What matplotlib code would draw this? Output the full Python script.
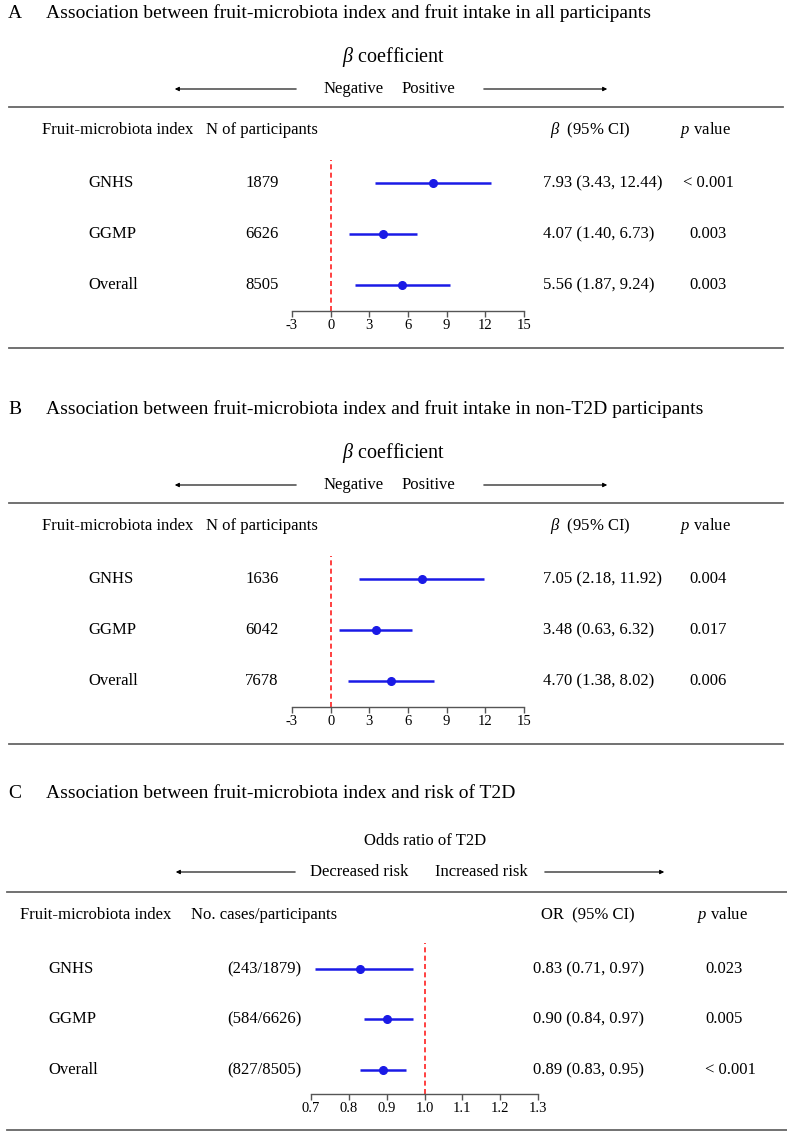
import matplotlib
matplotlib.use("Agg")
import matplotlib.pyplot as plt
from matplotlib.lines import Line2D
from matplotlib.patches import FancyArrowPatch

plt.rcParams["font.family"] = ["Liberation Serif", "DejaVu Serif"]
plt.rcParams["mathtext.fontset"] = "custom"
plt.rcParams["mathtext.rm"] = "Liberation Serif"
plt.rcParams["mathtext.it"] = "Liberation Serif:italic"

# data
cohorts = ["GNHS", "GGMP", "Overall"]

a_n = ["1879", "6626", "8505"]
a_beta = [7.93, 4.07, 5.56]
a_lo = [3.43, 1.40, 1.87]
a_hi = [12.44, 6.73, 9.24]
a_p = ["< 0.001", "0.003", "0.003"]

b_n = ["1636", "6042", "7678"]
b_beta = [7.05, 3.48, 4.70]
b_lo = [2.18, 0.63, 1.38]
b_hi = [11.92, 6.32, 8.02]
b_p = ["0.004", "0.017", "0.006"]

c_cases = ["(243/1879)", "(584/6626)", "(827/8505)"]
c_or = [0.83, 0.90, 0.89]
c_lo = [0.71, 0.84, 0.83]
c_hi = [0.97, 0.97, 0.95]
c_p = ["0.023", "0.005", "< 0.001"]

beta_ticks = [-3, 0, 3, 6, 9, 12, 15]
or_ticks = [0.7, 0.8, 0.9, 1.0, 1.1, 1.2, 1.3]

W, H = 787, 1134
fig = plt.figure(figsize=(W / 100, H / 100), dpi=100)

BLUE = "#1a1ae6"
RED = "#ff2020"
GREY = "#666666"


def fx(x):
    return x / W


def fy(y):
    return 1 - y / H


def txt(x, y, s, size=12, ha="left", **kw):
    fig.text(fx(x), fy(y), s, fontsize=size, ha=ha, va="center", **kw)


def hline(y, x0=9, x1=783):
    fig.add_artist(Line2D([fx(x0), fx(x1)], [fy(y), fy(y)], transform=fig.transFigure,
                          color=GREY, lw=1.3))


def arrow(x0, x1, y):
    fig.add_artist(FancyArrowPatch((fx(x0), fy(y)), (fx(x1), fy(y)), transform=fig.transFigure,
                                   arrowstyle="-|>", mutation_scale=6, lw=0.8, color="black"))


def forest(x0, x1, ytop, yaxis, rows_y, est, lo, hi, ticks, ref, ticksize):
    ax = fig.add_axes([fx(x0), fy(yaxis), fx(x1) - fx(x0), fy(ytop) - fy(yaxis)])
    ax.set_xlim(ticks[0], ticks[-1])
    ax.set_ylim(yaxis, ytop)
    ax.patch.set_visible(False)
    for s in ["top", "right", "left"]:
        ax.spines[s].set_visible(False)
    ax.spines["bottom"].set_color("#555555")
    ax.spines["bottom"].set_linewidth(1.0)
    ax.set_yticks([])
    ax.set_xticks(ticks)
    ax.set_xticklabels([f"{t:g}" if isinstance(t, int) else f"{t:.1f}" for t in ticks])
    ax.tick_params(axis="x", direction="out", length=4, width=1.0, color="#555555",
                   labelsize=ticksize, pad=2)
    ax.axvline(ref, color=RED, ls=(0, (3, 2)), lw=1.2)
    for y, e, l, h in zip(rows_y, est, lo, hi):
        ax.plot([l, h], [y, y], color=BLUE, lw=1.8, solid_capstyle="butt")
        ax.plot(e, y, "o", color=BLUE, ms=5.5)
    return ax


def beta_panel(dy, letter, title, n, beta, lo, hi, p, ticksize):
    txt(8, 13 + dy, letter, 14)
    txt(46, 13 + dy, title, 14)
    txt(394, 57 + dy, r"$\beta$ coefficient", 14.5, ha="center")
    arrow(299, 172, 89 + dy)
    arrow(481, 610, 89 + dy)
    txt(324, 89 + dy, "Negative", 12)
    txt(402, 89 + dy, "Positive", 12)
    hline(107 + dy)
    txt(42, 130 + dy, "Fruit-microbiota index", 12)
    txt(262, 130 + dy, "N of participants", 12, ha="center")
    txt(550, 130 + dy, r"$\beta$  (95% CI)", 12)
    txt(705, 130 + dy, r"$p$ value", 12, ha="center")
    rows_y = [183 + dy, 234 + dy, 285 + dy]
    for y, c, nn, b, l, h, pp in zip(rows_y, cohorts, n, beta, lo, hi, p):
        txt(88, y, c, 12)
        txt(262, y, nn, 12, ha="center")
        txt(543, y, f"{b:.2f} ({l:.2f}, {h:.2f})", 12)
        txt(708, y, pp, 12, ha="center")
    forest(292, 524, 160 + dy, 311 + dy, rows_y, beta, lo, hi, beta_ticks, 0, ticksize)
    hline(348 + dy)


beta_panel(0, "A", "Association between fruit-microbiota index and fruit intake in all participants",
           a_n, a_beta, a_lo, a_hi, a_p, 10.5)
beta_panel(396, "B", "Association between fruit-microbiota index and fruit intake in non-T2D participants",
           b_n, b_beta, b_lo, b_hi, b_p, 10.5)

# panel C
txt(8, 793, "C", 14)
txt(46, 793, "Association between fruit-microbiota index and risk of T2D", 14)
txt(425, 841, "Odds ratio of T2D", 12, ha="center")
arrow(298, 173, 872)
arrow(542, 667, 872)
txt(310, 872, "Decreased risk", 12)
txt(435, 872, "Increased risk", 12)
hline(892, 7, 787)
txt(20, 915, "Fruit-microbiota index", 12)
txt(264, 915, "No. cases/participants", 12, ha="center")
txt(541, 915, "OR  (95% CI)", 12)
txt(722, 915, r"$p$ value", 12, ha="center")
c_rows = [969, 1019, 1070]
for y, c, nn, o, l, h, pp in zip(c_rows, cohorts, c_cases, c_or, c_lo, c_hi, c_p):
    txt(48, y, c, 12)
    txt(264, y, nn, 12, ha="center")
    txt(533, y, f"{o:.2f} ({l:.2f}, {h:.2f})", 12)
    txt(705, y, pp, 12)
forest(311, 538, 943, 1094, c_rows, c_or, c_lo, c_hi, or_ticks, 1.0, 10.5)
hline(1130, 7, 787)

fig.savefig("out.png", dpi=100)
